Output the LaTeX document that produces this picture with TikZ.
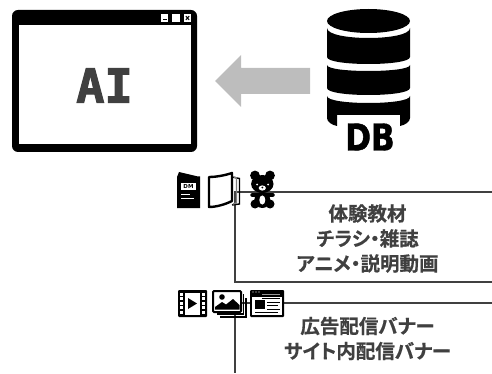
\documentclass[tikz,border=0pt]{standalone}
\usepackage{fontspec}
\setmainfont{Noto Sans CJK JP}[RawFeature=+palt,BoldFont={* Bold},BoldFeatures={FakeBold=0.6}]
\newfontfamily\aifont{DejaVu Sans Mono Bold}[FakeBold=2.2,FakeStretch=1.0]
\newfontfamily\dbfont{DejaVu Sans Bold}[FakeStretch=0.84,FakeBold=1.2]
\newfontfamily\dmfont{DejaVu Sans Bold}
\definecolor{ink}{HTML}{404040}
\definecolor{arrowgrey}{HTML}{BDBDBD}
\tikzset{
  wire/.style={draw=ink,line width=1.8pt},
  caption/.style={text=ink,align=center,font=\bfseries\fontsize{19.5}{25}\selectfont,inner sep=0pt},
}
\newcommand{\cylband}[4]{\fill[black] (327,#1) .. controls (327,#1+#2/0.75) and (410,#1+#2/0.75) .. (410,#1) -- (410,#3) .. controls (410,#3+#4/0.75) and (327,#3+#4/0.75) .. (327,#3) -- cycle;}
\begin{document}
\begin{tikzpicture}[x=1pt,y=-1pt]
\useasboundingbox (0,0) rectangle (492,374);
% connectors
\coordinate (a0) at (235,192);
\coordinate (a1) at (492,192);
\coordinate (a2) at (235,282);
\coordinate (a3) at (492,282);
\coordinate (b0) at (235,303);
\coordinate (b1) at (492,303);
\coordinate (b2) at (235,373);
\draw[wire] (a1) -- (a0) -- (a2) -- (a3);
\draw[wire] (b1) -- (b0) -- (b2);
% window
\fill[black,rounded corners=6pt] (12,10) rectangle (197,152);
\fill[white] (18.5,25.5) rectangle (191,144);
\fill[white] (161,14) rectangle (168,22);
\fill[white] (172,14) rectangle (180,22);
\fill[white] (184,14) rectangle (191,22);
\fill[black] (162.5,19.5) rectangle (166.5,20.5);
\draw[black,line width=1pt] (185.8,16) -- (189.2,20) (189.2,16) -- (185.8,20);
\node[text=ink,font=\aifont\fontsize{47}{47}\selectfont,inner sep=0pt] (ai) at (104.5,85.5) {AI};
% arrow
\fill[arrowgrey] (215,81) -- (241,55) -- (241,68) -- (310,68) -- (310,94) -- (241,94) -- (241,107) -- cycle;
% database
\fill[black] (368.5,21) ellipse[x radius=41.5,y radius=12];
\cylband{28}{10}{57}{7}
\cylband{65}{6}{88}{7}
\fill[black] (327,96) .. controls (327,96+7/0.75) and (410,96+7/0.75) .. (410,96) -- (410,118) .. controls (410,122) and (405,125) .. (400,126) -- (400,115) -- (337,115) -- (337,126) .. controls (332,125) and (327,122) .. (327,118) -- cycle;
\node[text=black,font=\dbfont\fontsize{37}{37}\selectfont,inner sep=0pt] (db) at (370,137) {DB};
% booklet DM
\fill[black] (177,177) -- (179,172) -- (198,176.5) -- (200,176.5) -- (200,208) -- (177,208) -- cycle;
\fill[white] (181,183) rectangle (196,189.5);
\node[text=black,font=\dmfont\fontsize{5.5}{5.5}\selectfont,inner sep=0pt] (dm) at (188.5,186.3) {DM};
\draw[white,line width=1pt] (181,194) -- (190,194) (181,198.5) -- (194,198.5);
% open book
\draw[black,line width=1.4pt] (232,177) -- (239.5,178.5) -- (239.5,204) -- (232,205);
\draw[black!50,line width=1.4pt] (234,177) -- (236.5,178) -- (236.5,203) -- (233,204);
\draw[black,line width=2.4pt,fill=white,line join=round] (209,177) .. controls (217,177) and (226,175) .. (232,173) -- (232,201) .. controls (226,204) and (217,207) .. (209,207) -- cycle;
% bear
\fill[black] (255,175.5) circle[radius=4.9] (270,175.5) circle[radius=4.9];
\fill[black] (262.3,184) ellipse[x radius=11.2,y radius=9];
\fill[black] (262.3,200) ellipse[x radius=8,y radius=8];
\draw[black,line width=4.5pt,line cap=round] (252.5,195) -- (272.5,195);
\fill[black] (255,204) circle[radius=4.5] (270,204) circle[radius=4.5];
\fill[white] (262.3,188) ellipse[x radius=3.6,y radius=2.6];
\fill[white] (257,184.5) circle[radius=1] (268,184.5) circle[radius=1];
\fill[white] (262.3,200) ellipse[x radius=3,y radius=4.6];
\fill[black] (262.3,187.5) circle[radius=1];
% film
\fill[black,rounded corners=1pt] (178,290) rectangle (207,317);
\fill[white] (185,292.5) rectangle (200,314.5);
\foreach \yy in {292.5,297,301.5,306,310.5}{
  \fill[white] (180,\yy) rectangle (183,\yy+3);
  \fill[white] (202,\yy) rectangle (205,\yy+3);
}
\fill[black] (188,298) -- (197,303.5) -- (188,309) -- cycle;
% image stack
\draw[black,line width=1.3pt] (243.5,294) -- (243.5,314) -- (217,314);
\draw[black,line width=1.3pt] (246,298) -- (246,317) -- (220,317);
\draw[black,line width=2pt,fill=white,rounded corners=1pt] (213,291) rectangle (241,312);
\fill[black] (222,297) circle[radius=2.8];
\fill[black] (215,309.5) -- (215,307) -- (222,302) -- (226,304.5) -- (233,299) -- (239.5,305) -- (239.5,309.5) -- cycle;
% browser
\fill[black,rounded corners=1pt] (250,290) rectangle (284,317);
\fill[white] (252,296.5) rectangle (282,315);
\fill[white] (253,292) circle[radius=.6] (256,292) circle[radius=.6] (259,292) circle[radius=.6];
\draw[white!60!black,line width=.8pt] (262,294) -- (280,294);
\fill[black] (255,300) rectangle (265,309);
\fill[black] (262,297.5) rectangle (280,299);
\draw[black,line width=1pt] (267,302) -- (280,302) (267,305.5) -- (278,305.5) (267,309) -- (280,309) (255,312) -- (278,312);
% captions
\node[caption] (t1) at (367.5,238.5) {体験教材\\チラシ・雑誌\\アニメ・説明動画};
\node[caption] (t2) at (367.5,338.5) {広告配信バナー\\サイト内配信バナー};
\end{tikzpicture}
\end{document}
